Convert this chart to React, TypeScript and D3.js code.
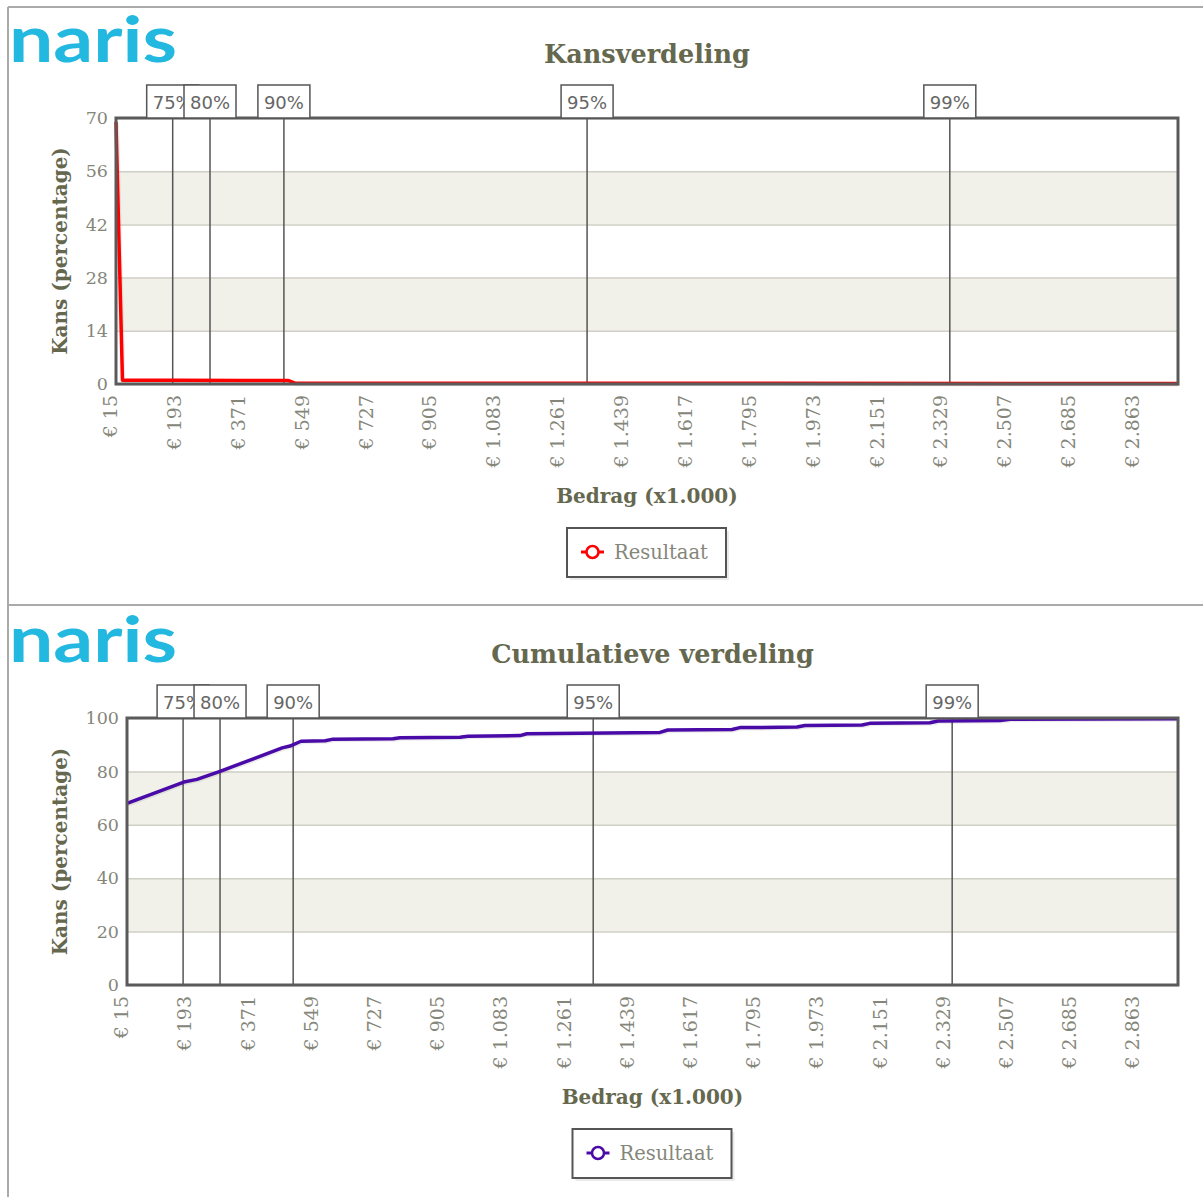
import React, { useEffect, useRef } from 'react'
import { axisBottom, axisLeft, line, scaleLinear, select } from 'd3'

// x tick labels (bedrag x1.000)
const xTicks = [15, 193, 371, 549, 727, 905, 1083, 1261, 1439, 1617, 1795, 1973, 2151, 2329, 2507, 2685, 2863]
const percentiles = ['75%', '80%', '90%', '95%', '99%']
const percentileValues = [173, 277, 483, 1328, 2339]

// kansverdeling
const pdfX = [15, 33, 193, 371, 496, 514, 2975]
const pdfY = [69, 1.0, 1.0, 0.9, 0.9, 0.2, 0.15]
const pdfTicks = [0, 14, 28, 42, 56, 70]

// cumulatieve verdeling
const cdfX = [15, 175, 212, 277, 452, 474, 505, 573, 592, 764, 784, 953, 975, 1122, 1141, 1516, 1538, 1719, 1741, 1902, 1924, 2085, 2107, 2276, 2299, 2474, 2502, 2975]
const cdfY = [68, 76, 77, 80, 88.8, 89.5, 91.3, 91.5, 92, 92.2, 92.6, 92.8, 93.2, 93.4, 94.1, 94.6, 95.5, 95.7, 96.4, 96.6, 97.2, 97.4, 98, 98.2, 98.9, 99.1, 99.5, 99.7]
const cdfTicks = [0, 20, 40, 60, 80, 100]

const fmt = (v) => '€ ' + String(v).replace(/\B(?=(\d{3})+(?!\d))/g, '.')

const textColor = '#65684f'
const tickColor = '#85867a'

const App = () => {
  const ref = useRef()

  useEffect(() => {
    main()
  }, [])

  const drawChart = (svg, c) => {
    const g = svg.append('g')
    const x = scaleLinear().domain([15, 2975]).range([c.left, c.right])
    const y = scaleLinear().domain([0, c.ticks[c.ticks.length - 1]]).range([c.bottom, c.top])

    // logo
    g.append('text')
      .attr('x', 9)
      .attr('y', c.top - 56)
      .attr('font-family', 'Lato, sans-serif')
      .attr('font-weight', 700)
      .attr('font-size', 64)
      .attr('textLength', 168)
      .attr('lengthAdjust', 'spacingAndGlyphs')
      .attr('fill', '#22b8df')
      .text('naris')

    g.append('text')
      .attr('x', (c.left + c.right) / 2)
      .attr('y', c.top - 55)
      .attr('text-anchor', 'middle')
      .attr('font-family', 'DejaVu Serif, serif')
      .attr('font-weight', 'bold')
      .attr('font-size', 25.5)
      .attr('fill', textColor)
      .text(c.title)

    // bands
    const step = c.ticks[1]
    c.ticks.slice(0, -1).forEach((t, i) => {
      if (i % 2 === 1) {
        g.append('rect')
          .attr('x', c.left)
          .attr('y', y(t + step))
          .attr('width', c.right - c.left)
          .attr('height', y(t) - y(t + step))
          .attr('fill', '#f1f1ea')
      }
    })

    g.append('g')
      .attr('transform', `translate(${c.left},0)`)
      .call(axisLeft(y).tickValues(c.ticks).tickSize(-(c.right - c.left)).tickFormat(''))
      .call((a) => a.select('.domain').remove())
      .call((a) => a.selectAll('line').attr('stroke', '#cfcfc6').attr('stroke-width', 1.5))

    // y tick labels
    g.selectAll('.ylab')
      .data(c.ticks)
      .enter()
      .append('text')
      .attr('x', c.left - 8)
      .attr('y', (d) => y(d))
      .attr('dy', '0.35em')
      .attr('text-anchor', 'end')
      .attr('font-family', 'DejaVu Serif, serif')
      .attr('font-size', 17.5)
      .attr('fill', tickColor)
      .text((d) => d)

    // x tick labels
    const xa = g.append('g')
      .attr('transform', `translate(0,${c.bottom})`)
      .call(axisBottom(x).tickValues(xTicks).tickSize(0).tickFormat(fmt))
    xa.select('.domain').remove()
    xa.selectAll('text')
      .attr('transform', 'rotate(-90)')
      .attr('x', -11)
      .attr('y', -6)
      .attr('dy', '0.35em')
      .attr('text-anchor', 'end')
      .attr('font-family', 'DejaVu Serif, serif')
      .attr('font-size', 19)
      .attr('fill', tickColor)

    g.append('text')
      .attr('transform', `translate(67,${(c.top + c.bottom) / 2}) rotate(-90)`)
      .attr('text-anchor', 'middle')
      .attr('font-family', 'DejaVu Serif, serif')
      .attr('font-weight', 'bold')
      .attr('font-size', 20)
      .attr('fill', textColor)
      .text('Kans (percentage)')

    g.append('text')
      .attr('x', (c.left + c.right) / 2)
      .attr('y', c.bottom + 119)
      .attr('text-anchor', 'middle')
      .attr('font-family', 'DejaVu Serif, serif')
      .attr('font-weight', 'bold')
      .attr('font-size', 20)
      .attr('fill', textColor)
      .text('Bedrag (x1.000)')

    // percentile lines
    g.selectAll('.pline')
      .data(percentileValues)
      .enter()
      .append('line')
      .attr('x1', (d) => x(d))
      .attr('x2', (d) => x(d))
      .attr('y1', c.top)
      .attr('y2', c.bottom)
      .attr('stroke', '#555')
      .attr('stroke-width', 1.5)

    // series
    const pts = c.xs.map((v, i) => [x(v), y(c.ys[i])])
    const path = line()
    g.append('path')
      .attr('d', path(pts.map((p) => [p[0] + 1.5, p[1] + 1.5])))
      .attr('fill', 'none')
      .attr('stroke', 'rgba(0,0,0,0.08)')
      .attr('stroke-width', 3)
    g.append('path')
      .attr('d', path(pts))
      .attr('fill', 'none')
      .attr('stroke', c.color)
      .attr('stroke-width', 3.5)
      .attr('stroke-linejoin', 'round')

    // border
    g.append('rect')
      .attr('x', c.left)
      .attr('y', c.top)
      .attr('width', c.right - c.left)
      .attr('height', c.bottom - c.top)
      .attr('fill', 'none')
      .attr('stroke', '#5a5a5a')
      .attr('stroke-width', 3)

    // percentile boxes
    const pb = g.selectAll('.pbox')
      .data(percentileValues)
      .enter()
      .append('g')
      .attr('transform', (d) => `translate(${x(d)},${c.top})`)
    pb.append('rect')
      .attr('x', -26)
      .attr('y', -33)
      .attr('width', 52)
      .attr('height', 33)
      .attr('fill', 'white')
      .attr('stroke', '#555')
      .attr('stroke-width', 1.5)
    pb.append('text')
      .attr('x', 0)
      .attr('y', -9)
      .attr('text-anchor', 'middle')
      .attr('font-family', 'DejaVu Sans, sans-serif')
      .attr('font-size', 18)
      .attr('fill', '#666')
      .text((d, i) => percentiles[i])

    // legend
    const lx = (c.left + c.right) / 2 - 80
    const ly = c.bottom + 144
    g.append('rect')
      .attr('x', lx + 3)
      .attr('y', ly + 3)
      .attr('width', 159)
      .attr('height', 49)
      .attr('fill', 'rgba(0,0,0,0.08)')
    g.append('rect')
      .attr('x', lx)
      .attr('y', ly)
      .attr('width', 159)
      .attr('height', 49)
      .attr('fill', 'white')
      .attr('stroke', '#555')
      .attr('stroke-width', 2)
    g.append('line')
      .attr('x1', lx + 14)
      .attr('x2', lx + 37)
      .attr('y1', ly + 24)
      .attr('y2', ly + 24)
      .attr('stroke', c.color)
      .attr('stroke-width', 3)
    g.append('circle')
      .attr('cx', lx + 25.5)
      .attr('cy', ly + 24)
      .attr('r', 6)
      .attr('fill', 'white')
      .attr('stroke', c.color)
      .attr('stroke-width', 2.5)
    g.append('text')
      .attr('x', lx + 47)
      .attr('y', ly + 31)
      .attr('font-family', 'DejaVu Serif, serif')
      .attr('font-size', 19.5)
      .attr('fill', tickColor)
      .text('Resultaat')
  }

  const main = () => {
    const svg = select(ref.current)
    svg.selectAll('*').remove()

    svg.append('line').attr('x1', 8).attr('x2', 8).attr('y1', 7).attr('y2', 1197).attr('stroke', '#aaa').attr('stroke-width', 2)
    svg.append('line').attr('x1', 8).attr('x2', 1203).attr('y1', 7).attr('y2', 7).attr('stroke', '#aaa').attr('stroke-width', 2)
    svg.append('line').attr('x1', 8).attr('x2', 1203).attr('y1', 605).attr('y2', 605).attr('stroke', '#aaa').attr('stroke-width', 2)

    drawChart(svg, {
      title: 'Kansverdeling', left: 116, right: 1178, top: 118, bottom: 384,
      ticks: pdfTicks, xs: pdfX, ys: pdfY, color: '#ff0000',
    })
    drawChart(svg, {
      title: 'Cumulatieve verdeling', left: 127, right: 1178, top: 718, bottom: 985,
      ticks: cdfTicks, xs: cdfX, ys: cdfY, color: '#4a0aa8',
    })
  }

  return (
    <div style={{ position: 'absolute', left: 0, top: 0 }}>
      <svg ref={ref} width={1203} height={1197} style={{ display: 'block' }}></svg>
    </div>
  )
}

export default App
